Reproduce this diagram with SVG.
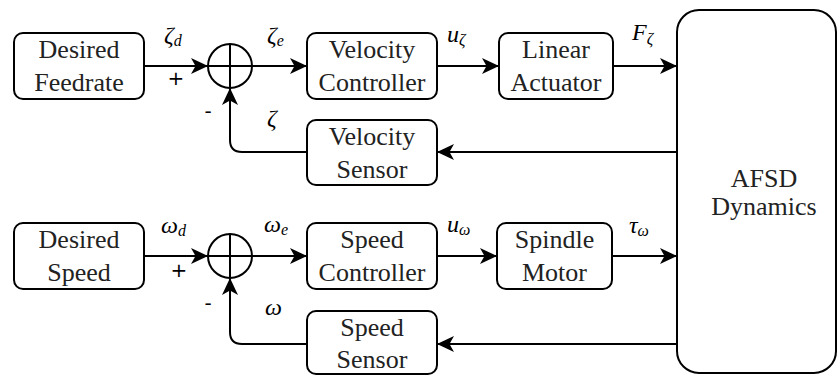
<svg xmlns="http://www.w3.org/2000/svg" width="839" height="376" viewBox="0 0 839 376">
<style>
.box{fill:#fff;stroke:#000;stroke-width:2}
.lbl{font-family:'Liberation Serif','Times New Roman',serif;font-size:26px;fill:#222;text-anchor:middle}
.m{font-family:'Liberation Serif','Times New Roman',serif;font-size:24px;font-style:italic;fill:#000}
.s{font-size:16px}
.sg{font-family:'DejaVu Sans',sans-serif;font-size:20px;fill:#000;text-anchor:middle}
.ln{fill:none;stroke:#000;stroke-width:2}
</style>
<defs>
<marker id="arr" markerUnits="userSpaceOnUse" viewBox="0 0 17 16" refX="17" refY="8" markerWidth="17" markerHeight="16" orient="auto">
<path d="M0,0 L17,8 L0,16 L4.5,8 Z" fill="#000"/>
</marker>
</defs>
<rect width="839" height="376" fill="#fff"/>

<g id="connectors">
<path class="ln" d="M144,66 H208" marker-end="url(#arr)"/>
<path class="ln" d="M252,66 H307" marker-end="url(#arr)"/>
<path class="ln" d="M437,66 H499" marker-end="url(#arr)"/>
<path class="ln" d="M613,66 H677" marker-end="url(#arr)"/>
<path class="ln" d="M677,152 H437" marker-end="url(#arr)"/>
<path class="ln" d="M307,152 H242 Q230,152 230,140 V88" marker-end="url(#arr)"/>
<path class="ln" d="M144,256 H208" marker-end="url(#arr)"/>
<path class="ln" d="M252,256 H307" marker-end="url(#arr)"/>
<path class="ln" d="M437,256 H497" marker-end="url(#arr)"/>
<path class="ln" d="M612,256 H677" marker-end="url(#arr)"/>
<path class="ln" d="M677,344 H437" marker-end="url(#arr)"/>
<path class="ln" d="M307,344 H242 Q230,344 230,332 V278" marker-end="url(#arr)"/>
</g>

<g id="desired-feedrate">
<rect class="box" x="14" y="33" width="130" height="66" rx="9"/>
<text class="lbl" x="79" y="57.5">Desired</text>
<text class="lbl" x="79" y="91">Feedrate</text>
</g>
<g id="sum1">
<circle class="box" cx="230" cy="66" r="22"/>
<path class="ln" d="M208,66 H252 M230,44 V88"/>
</g>
<g id="velocity-controller">
<rect class="box" x="307" y="33" width="130" height="66" rx="9"/>
<text class="lbl" x="372" y="57.5">Velocity</text>
<text class="lbl" x="372" y="91">Controller</text>
</g>
<g id="linear-actuator">
<rect class="box" x="499" y="33" width="114" height="66" rx="9"/>
<text class="lbl" x="556" y="57.5">Linear</text>
<text class="lbl" x="556" y="91">Actuator</text>
</g>
<g id="velocity-sensor">
<rect class="box" x="307" y="120" width="130" height="65" rx="9"/>
<text class="lbl" x="372" y="145">Velocity</text>
<text class="lbl" x="372" y="177.5">Sensor</text>
</g>
<g id="afsd-dynamics">
<rect class="box" x="677" y="10" width="159" height="363" rx="22"/>
<text class="lbl" x="764" y="187">AFSD</text>
<text class="lbl" x="764" y="215">Dynamics</text>
</g>

<g id="desired-speed">
<rect class="box" x="14" y="223" width="130" height="66" rx="9"/>
<text class="lbl" x="79" y="247.5">Desired</text>
<text class="lbl" x="79" y="281">Speed</text>
</g>
<g id="sum2">
<circle class="box" cx="230" cy="256" r="22"/>
<path class="ln" d="M208,256 H252 M230,234 V278"/>
</g>
<g id="speed-controller">
<rect class="box" x="307" y="223" width="130" height="66" rx="9"/>
<text class="lbl" x="372" y="247.5">Speed</text>
<text class="lbl" x="372" y="281">Controller</text>
</g>
<g id="spindle-motor">
<rect class="box" x="497" y="223" width="115" height="66" rx="9"/>
<text class="lbl" x="554.5" y="247.5">Spindle</text>
<text class="lbl" x="554.5" y="281">Motor</text>
</g>
<g id="speed-sensor">
<rect class="box" x="307" y="311" width="130" height="63" rx="9"/>
<text class="lbl" x="372" y="335.5">Speed</text>
<text class="lbl" x="372" y="368">Sensor</text>
</g>

<g id="labels">
<text class="m" x="164" y="43">ζ<tspan class="s" dy="3">d</tspan></text>
<text class="m" x="267" y="43">ζ<tspan class="s" dy="3">e</tspan></text>
<text class="m" x="447" y="42">u<tspan class="s" dy="3">ζ</tspan></text>
<text class="m" x="632" y="40">F<tspan class="s" dy="4">ζ</tspan></text>
<text class="m" x="267" y="126">ζ</text>
<text class="sg" x="176" y="85">+</text>
<text class="sg" x="208" y="118">-</text>

<text class="m" x="161" y="233">ω<tspan class="s" dy="3">d</tspan></text>
<text class="m" x="264" y="232">ω<tspan class="s" dy="3">e</tspan></text>
<text class="m" x="447" y="232">u<tspan class="s" dy="3">ω</tspan></text>
<text class="m" x="629" y="233">τ<tspan class="s" dy="3">ω</tspan></text>
<text class="m" x="265" y="315">ω</text>
<text class="sg" x="179" y="277">+</text>
<text class="sg" x="208" y="310">-</text>
</g>
</svg>
